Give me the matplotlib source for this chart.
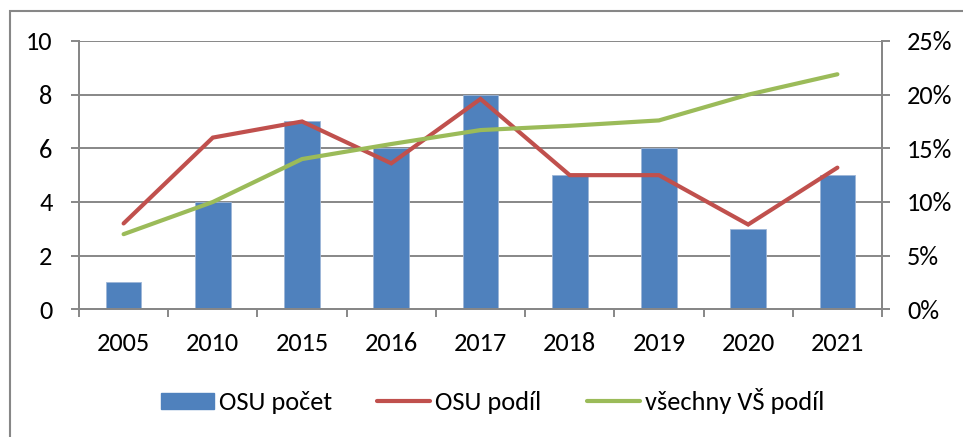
import matplotlib
matplotlib.use("Agg")
import matplotlib.pyplot as plt
import numpy as np
from matplotlib.ticker import PercentFormatter, FixedLocator
from matplotlib.patches import Rectangle, Patch
from matplotlib.lines import Line2D
from matplotlib import font_manager

names = {f.name for f in font_manager.fontManager.ttflist}
if "Carlito" in names:
    FONT, FS, LFS = "Carlito", 19, 19
else:
    FONT, FS, LFS = "Lato", 16, 17
plt.rcParams['font.family'] = [FONT, 'DejaVu Sans']

years = ["2005", "2010", "2015", "2016", "2017", "2018", "2019", "2020", "2021"]
osu_pocet = [1, 4, 7, 6, 8, 5, 6, 3, 5]
osu_podil = [0.080, 0.160, 0.175, 0.136, 0.196, 0.125, 0.125, 0.079, 0.132]
vse_podil = [0.070, 0.100, 0.140, 0.154, 0.167, 0.171, 0.176, 0.200, 0.219]

BLUE = "#4F81BD"
RED = "#C0504D"
GREEN = "#9BBB59"
GRAY = "#878787"

W, H = 963, 437
fig = plt.figure(figsize=(W / 100, H / 100), dpi=100)
ax = fig.add_axes([79 / W, 1 - 309.3 / H, (882 - 79) / W, (309.3 - 41) / H])
ax2 = ax.twinx()

x = np.arange(len(years))
ax.bar(x, osu_pocet, width=0.4, color=BLUE, edgecolor="#9DB6D8", linewidth=0.6, zorder=3)
ax.set_xlim(-0.5, len(years) - 0.5)
ax.set_ylim(0, 10)
ax.set_yticks(range(0, 11, 2))
ax.set_axisbelow(True)
ax.grid(axis="y", color=GRAY, linewidth=1.4, zorder=0)

ax.set_xticks(x)
ax.set_xticklabels(years)
ax.xaxis.set_minor_locator(FixedLocator(np.arange(-0.5, len(years), 1.0)))
ax.tick_params(axis="x", which="major", length=0, pad=16, labelsize=FS)
ax.tick_params(axis="x", which="minor", length=6, width=1.4, color=GRAY, direction="out")
ax.tick_params(axis="y", length=6, width=1.4, color=GRAY, direction="out", pad=13, labelsize=FS)

ax2.plot(x, osu_podil, color=RED, linewidth=3, solid_capstyle="round", solid_joinstyle="miter", zorder=4)
ax2.plot(x, vse_podil, color=GREEN, linewidth=3, solid_capstyle="round", solid_joinstyle="miter", zorder=5)
ax2.set_ylim(0, 0.25)
ax2.set_yticks(np.arange(0, 0.2501, 0.05))
ax2.yaxis.set_major_formatter(PercentFormatter(1.0, decimals=0))
ax2.tick_params(axis="y", length=6, width=1.4, color=GRAY, direction="out", pad=12, labelsize=FS)

for a in (ax, ax2):
    a.spines["top"].set_visible(False)
    for s in ("left", "right", "bottom"):
        a.spines[s].set_color(GRAY)
        a.spines[s].set_linewidth(1.4)

# outer chart border
fig.patches.append(Rectangle((9.5 / W, -0.2), 2, (H - 11) / H + 0.2,
                             transform=fig.transFigure, fill=False,
                             edgecolor=GRAY, linewidth=1.5, clip_on=False))

handles = [Patch(facecolor=BLUE, edgecolor=BLUE),
           Line2D([], [], color=RED, linewidth=3, solid_capstyle="round"),
           Line2D([], [], color=GREEN, linewidth=3, solid_capstyle="round")]
labels = ["OSU počet", "OSU podíl", "všechny VŠ podíl"]
fs_unit = LFS * 100 / 72.0
fig.legend(handles, labels, loc="center", bbox_to_anchor=(492.5 / W, 1 - 401 / H),
           ncol=3, frameon=False, fontsize=LFS,
           handlelength=53 / fs_unit, handleheight=15 / fs_unit,
           handletextpad=5 / fs_unit, columnspacing=45 / fs_unit,
           borderpad=0, borderaxespad=0)

fig.savefig("out.png", dpi=100)
